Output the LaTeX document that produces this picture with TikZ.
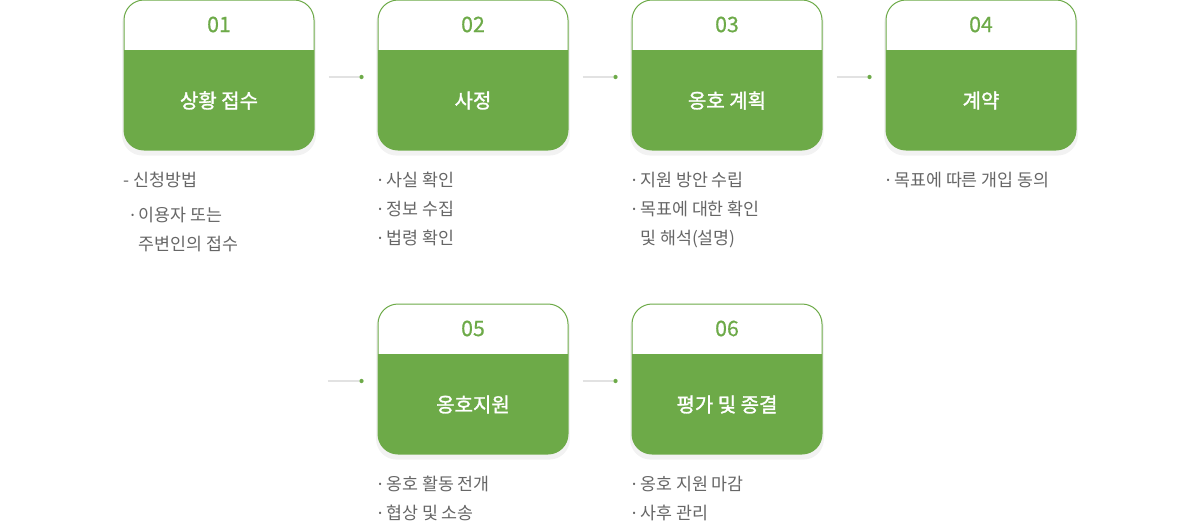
\documentclass[tikz,border=0pt]{standalone}
\usepackage{fontspec}
\setmainfont{Noto Sans CJK KR}
\newfontfamily\latinfont{Noto Sans}
\newfontfamily\numfont[FakeBold=0.5]{Noto Sans CJK KR}
\newfontfamily\titlefont[FakeBold=1.4]{Noto Sans CJK KR}
\newcommand{\dotmark}{{\latinfont·}}
\usetikzlibrary{positioning, calc, shadows}
\definecolor{stepgreen}{RGB}{109, 170, 72}
\definecolor{linkgray}{RGB}{226, 226, 226}
\definecolor{textgray}{RGB}{102, 102, 102}
\tikzstyle{card} = [rectangle, rounded corners=15pt, minimum width=142.5pt, minimum height=112.5pt, inner sep=0pt, draw=stepgreen, line width=0.75pt, fill=white, drop shadow={opacity=0.1, shadow xshift=0pt, shadow yshift=-3pt, shadow scale=1.02}, path picture={\fill[stepgreen, sharp corners] ([yshift=-37.5pt]path picture bounding box.north west) rectangle (path picture bounding box.south east);}]
\tikzstyle{stepnum} = [text=stepgreen, font=\numfont\fontsize{16}{19}\selectfont]
\tikzstyle{steptitle} = [text=white, font=\titlefont\fontsize{15}{18}\selectfont]
\tikzstyle{desc} = [text=textgray, font=\fontsize{13}{21.75}\selectfont, align=left, anchor=north west, inner sep=0pt]
\tikzstyle{link} = [draw=linkgray, line width=1.5pt]
\begin{document}
\begin{tikzpicture}[x=0.75pt, y=-0.75pt]
\useasboundingbox (0,0) rectangle (1200,532);

% Step 1
\node (c01) [card] at (219,75) {};
\node (n01) [stepnum] at ($(c01.north)+(0,25)$) {01};
\node (t01) [steptitle] at ($(c01.south)+(0,-50)$) {상황 접수};
\node (d01) [desc] at ($(c01.south west)+(0,21)$) {- 신청방법\\[4.5pt]\hspace*{5pt}\dotmark{} 이용자 또는\\\hspace*{5pt}\phantom{\dotmark{} }주변인의 접수};

% Step 2
\node (c02) [card] at (473,75) {};
\node (n02) [stepnum] at ($(c02.north)+(0,25)$) {02};
\node (t02) [steptitle] at ($(c02.south)+(0,-50)$) {사정};
\node (d02) [desc] at ($(c02.south west)+(0,21)$) {\dotmark{} 사실 확인\\\dotmark{} 정보 수집\\\dotmark{} 법령 확인};

% Step 3
\node (c03) [card] at (727,75) {};
\node (n03) [stepnum] at ($(c03.north)+(0,25)$) {03};
\node (t03) [steptitle] at ($(c03.south)+(0,-50)$) {옹호 계획};
\node (d03) [desc] at ($(c03.south west)+(0,21)$) {\dotmark{} 지원 방안 수립\\\dotmark{} 목표에 대한 확인\\\phantom{\dotmark{} }및 해석(설명)};

% Step 4
\node (c04) [card] at (981,75) {};
\node (n04) [stepnum] at ($(c04.north)+(0,25)$) {04};
\node (t04) [steptitle] at ($(c04.south)+(0,-50)$) {계약};
\node (d04) [desc] at ($(c04.south west)+(0,21)$) {\dotmark{} 목표에 따른 개입 동의};

% Step 5
\node (c05) [card] at (473,379) {};
\node (n05) [stepnum] at ($(c05.north)+(0,25)$) {05};
\node (t05) [steptitle] at ($(c05.south)+(0,-50)$) {옹호지원};
\node (d05) [desc] at ($(c05.south west)+(0,21)$) {\dotmark{} 옹호 활동 전개\\\dotmark{} 협상 및 소송};

% Step 6
\node (c06) [card] at (727,379) {};
\node (n06) [stepnum] at ($(c06.north)+(0,25)$) {06};
\node (t06) [steptitle] at ($(c06.south)+(0,-50)$) {평가 및 종결};
\node (d06) [desc] at ($(c06.south west)+(0,21)$) {\dotmark{} 옹호 지원 마감\\\dotmark{} 사후 관리};

% Links
\draw [link] ($(c01.east)+(14,2)$) -- ($(c02.west)+(-19,2)$);
\fill [stepgreen] ($(c02.west)+(-16,2)$) circle (1.6pt);
\draw [link] ($(c02.east)+(14,2)$) -- ($(c03.west)+(-19,2)$);
\fill [stepgreen] ($(c03.west)+(-16,2)$) circle (1.6pt);
\draw [link] ($(c03.east)+(14,2)$) -- ($(c04.west)+(-19,2)$);
\fill [stepgreen] ($(c04.west)+(-16,2)$) circle (1.6pt);
\coordinate (s05) at ($(c05.west)+(-50,2)$);
\draw [link] (s05) -- ($(c05.west)+(-19,2)$);
\fill [stepgreen] ($(c05.west)+(-16,2)$) circle (1.6pt);
\draw [link] ($(c05.east)+(14,2)$) -- ($(c06.west)+(-19,2)$);
\fill [stepgreen] ($(c06.west)+(-16,2)$) circle (1.6pt);

\end{tikzpicture}
\end{document}
